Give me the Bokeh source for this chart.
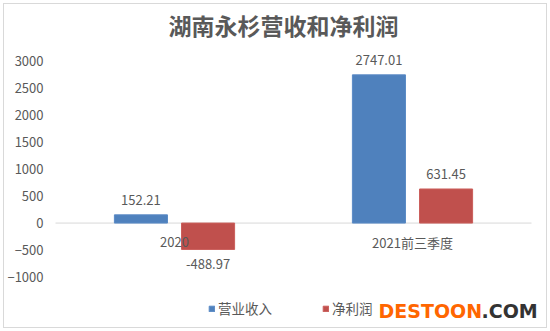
from bokeh.plotting import figure
from bokeh.models import (ColumnDataSource, FactorRange, Range1d, FixedTicker,
                          Legend, LegendItem, Label)
from bokeh.transform import dodge
from bokeh.core.properties import value
from bokeh.embed import file_html
from bokeh.resources import INLINE
import numpy as np

# ---- data ----
categories = ["2020", "2021前三季度"]
revenue = [152.21, 2747.01]
net_profit = [-488.97, 631.45]
series_names = ["营业收入", "净利润"]
y_ticks = [-1000, -500, 0, 500, 1000, 1500, 2000, 2500, 3000]
title_text = "湖南永杉营收和净利润"
watermark = ["DESTOON", ".COM"]

FONT = "Noto Sans CJK SC"
TXT = "#595959"
BLUE = "#4F81BD"
RED = "#C0504D"

rev = np.array(revenue)
npf = np.array(net_profit)
src = ColumnDataSource(dict(
    cat=categories,
    rev=revenue,
    npf=net_profit,
    rev_label=[f"{v:.2f}" for v in revenue],
    npf_label=[f"{v:.2f}" for v in net_profit],
    rev_off=list(np.where(rev >= 0, -15, 15)),
    npf_off=list(np.where(npf >= 0, -15, 15)),
))
axis_src = ColumnDataSource(dict(x0=[categories[0]], x1=[categories[-1]], y=[0]))

p = figure(width=550, height=331,
           x_range=FactorRange(*categories, range_padding=0.0504,
                               range_padding_units="absolute"),
           y_range=Range1d(-1917, 3291),
           output_backend="svg", toolbar_location=None,
           min_border_left=43, min_border_right=7,
           min_border_bottom=5, min_border_top=45,
           background_fill_color=None, border_fill_color=None)

p.title.text = title_text
p.title.align = "left"
p.title.offset = 125
p.title.text_font = FONT
p.title.text_font_size = "23px"
p.title.text_font_style = "bold"
p.title.text_color = TXT
p.title.standoff = 8

p.xaxis.visible = False
p.xgrid.visible = False
p.ygrid.visible = False
p.outline_line_color = None

ya = p.yaxis[0]
ya.ticker = FixedTicker(ticks=y_ticks)
ya.axis_line_color = None
ya.major_tick_line_color = None
ya.minor_tick_line_color = None
ya.major_tick_out = 0
ya.major_label_standoff = 0
ya.major_label_text_font = FONT
ya.major_label_text_font_size = "13px"
ya.major_label_text_color = TXT

# category axis line at zero
p.segment(x0=dodge("x0", -0.5, range=p.x_range), x1=dodge("x1", 0.5, range=p.x_range),
          y0="y", y1="y", source=axis_src, line_color="#d9d9d9", line_width=1)

off = 0.141
bw = 0.223
r1 = p.vbar(x=dodge("cat", -off, range=p.x_range), top="rev", bottom=0, width=bw,
            source=src, fill_color=BLUE, line_color="#5A8AC6", line_width=1)
r2 = p.vbar(x=dodge("cat", off, range=p.x_range), top="npf", bottom=0, width=bw,
            source=src, fill_color=RED, line_color="#CB5E5B", line_width=1)

common = dict(text_align="center", text_baseline="middle", text_font=value(FONT),
              text_font_size="13px", text_color=TXT, source=src)
p.text(x=dodge("cat", -off, range=p.x_range), y="rev", text="rev_label", y_offset="rev_off", **common)
p.text(x=dodge("cat", off, range=p.x_range), y="npf", text="npf_label", y_offset="npf_off", **common)
p.text(x="cat", y=0, text="cat", y_offset=19, **common)

legend = Legend(items=[LegendItem(label=series_names[0], renderers=[r1]),
                       LegendItem(label=series_names[1], renderers=[r2])],
                orientation="horizontal", location=(165, 8), padding=0, margin=0,
                border_line_color=None, background_fill_alpha=0,
                glyph_width=7, glyph_height=7, label_standoff=3, spacing=50,
                label_text_font=FONT, label_text_font_size="13.5px",
                label_text_color=TXT)
p.add_layout(legend)

p.add_layout(Label(x=378 - 43, y=16, x_units="screen", y_units="screen",
                   text=watermark[0], text_font="DejaVu Sans", text_font_style="bold",
                   text_font_size="19px", text_color="#FF6600", text_baseline="middle"))
p.add_layout(Label(x=481 - 43, y=16, x_units="screen", y_units="screen",
                   text=watermark[1], text_font="DejaVu Sans", text_font_style="bold",
                   text_font_size="19px", text_color="#333333", text_baseline="middle"))

p.styles = {
    "background-color": "white",
    "box-shadow": "inset 0 0 0 3px white, inset 0 0 0 4px #d9d9d9",
}

open("out.html", "w").write(file_html(p, INLINE))
